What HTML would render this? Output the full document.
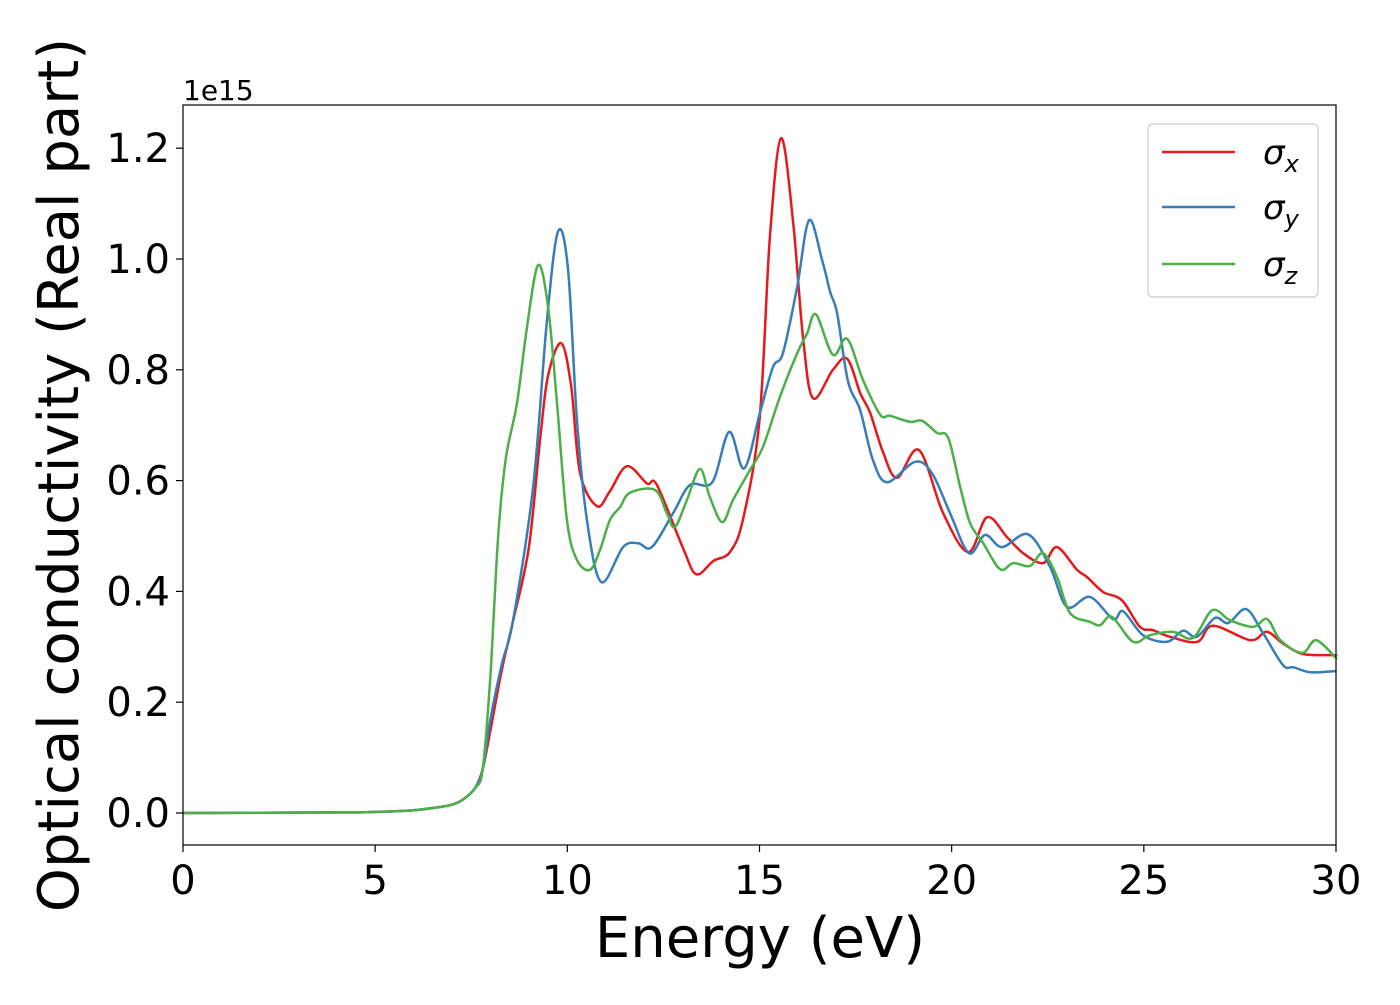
<!DOCTYPE html>
<html><head><meta charset="utf-8"><style>
html,body{margin:0;padding:0;background:#fff;}
svg text{font-family:"DejaVu Sans","Liberation Sans",sans-serif;}
</style></head><body>
<svg id="chart" width="1400" height="1000" xmlns="http://www.w3.org/2000/svg">
<rect width="1400" height="1000" fill="#fff"/>
<g id="plot"></g>
<rect x="183" y="105" width="1153" height="740" fill="none" stroke="#000" stroke-width="1.2"/>
<g id="xticks"></g>
<g id="yticks"></g>
<text x="760" y="957" font-size="56" text-anchor="middle">Energy (eV)</text>
<text transform="translate(78,475) rotate(-90)" font-size="56" text-anchor="middle">Optical conductivity (Real part)</text>
<text x="183" y="100" font-size="28">1e15</text>
<g>
<rect x="1148" y="124" width="170" height="173" rx="5" fill="#fff" stroke="#ccc" stroke-width="1.2"/>
<line x1="1162" y1="152" x2="1235" y2="152" stroke="#e41a1c" stroke-width="2.5"/>
<text x="1263" y="164" font-size="34" font-style="italic">σ<tspan font-size="24" dy="8">x</tspan></text>
<line x1="1162" y1="207" x2="1235" y2="207" stroke="#377eb8" stroke-width="2.5"/>
<text x="1263" y="219" font-size="34" font-style="italic">σ<tspan font-size="24" dy="8">y</tspan></text>
<line x1="1162" y1="264" x2="1235" y2="264" stroke="#4daf4a" stroke-width="2.5"/>
<text x="1263" y="276" font-size="34" font-style="italic">σ<tspan font-size="24" dy="8">z</tspan></text>
</g>
</svg>
<script>
const xTicks=[0,5,10,15,20,25,30];
const yTicks=[0,0.2,0.4,0.6,0.8,1.0,1.2];
const yTickLabels=["0.0","0.2","0.4","0.6","0.8","1.0","1.2"];
const lowE=[[0,0],[4,0.001],[5,0.002],[6,0.005],[6.5,0.009],[7,0.015],[7.3,0.025],[7.6,0.045],[7.8,0.08]];
const sigmaX=[[8.0,0.15],[8.3,0.26],[8.6,0.35],[9.0,0.48],[9.3,0.68],[9.5,0.79],[9.84,0.848],[10.1,0.77],[10.33,0.614],[10.77,0.554],[11.1,0.58],[11.55,0.626],[12.07,0.595],[12.33,0.592],[13.0,0.48],[13.35,0.431],[13.8,0.455],[14.23,0.471],[14.57,0.53],[15.0,0.71],[15.27,1.04],[15.56,1.218],[15.87,1.07],[16.13,0.86],[16.39,0.749],[16.91,0.80],[17.28,0.82],[17.62,0.758],[17.88,0.722],[18.22,0.65],[18.58,0.605],[19.15,0.655],[19.78,0.541],[20.43,0.471],[20.92,0.534],[21.44,0.498],[21.86,0.469],[22.38,0.451],[22.74,0.48],[23.26,0.439],[23.52,0.426],[23.94,0.399],[24.43,0.384],[24.9,0.336],[25.24,0.33],[25.68,0.318],[26.39,0.309],[26.8,0.338],[27.77,0.312],[28.2,0.327],[28.62,0.306],[29.14,0.287],[29.93,0.285],[30,0.285]];
const sigmaY=[[8.0,0.17],[8.3,0.27],[8.59,0.348],[9.11,0.588],[9.47,0.89],[9.76,1.05],[10.02,0.98],[10.25,0.71],[10.51,0.529],[10.88,0.417],[11.45,0.48],[11.84,0.487],[12.2,0.48],[12.75,0.541],[13.19,0.592],[13.77,0.597],[14.21,0.688],[14.6,0.622],[15.01,0.722],[15.35,0.805],[15.61,0.83],[15.98,0.95],[16.29,1.07],[16.63,0.998],[16.84,0.94],[17.02,0.902],[17.3,0.78],[17.62,0.727],[17.95,0.637],[18.32,0.597],[19.05,0.634],[19.49,0.613],[19.96,0.541],[20.45,0.469],[20.87,0.502],[21.31,0.48],[21.99,0.503],[22.56,0.444],[23.0,0.372],[23.6,0.39],[24.2,0.35],[24.46,0.364],[24.98,0.321],[25.6,0.309],[26.02,0.329],[26.38,0.318],[26.85,0.352],[27.2,0.343],[27.66,0.368],[28.1,0.325],[28.62,0.267],[28.9,0.263],[29.33,0.254],[29.93,0.256],[30,0.256]];
const sigmaZ=[[8.0,0.25],[8.2,0.5],[8.4,0.64],[8.69,0.74],[8.95,0.877],[9.24,0.989],[9.5,0.913],[9.73,0.74],[9.99,0.529],[10.25,0.457],[10.59,0.439],[10.85,0.475],[11.11,0.529],[11.37,0.552],[11.63,0.578],[12.28,0.583],[12.59,0.541],[12.8,0.516],[13.11,0.565],[13.45,0.621],[13.71,0.57],[14.03,0.525],[14.31,0.565],[14.75,0.619],[15.09,0.661],[15.53,0.751],[15.98,0.83],[16.24,0.866],[16.47,0.9],[16.91,0.827],[17.28,0.856],[17.69,0.782],[18.14,0.719],[18.4,0.717],[18.92,0.706],[19.23,0.708],[19.62,0.686],[19.91,0.677],[20.22,0.589],[20.48,0.523],[20.82,0.487],[21.26,0.44],[21.6,0.451],[22.04,0.446],[22.38,0.469],[22.74,0.426],[23.08,0.361],[23.6,0.345],[23.86,0.339],[24.17,0.354],[24.72,0.309],[25.16,0.321],[25.76,0.327],[26.28,0.316],[26.78,0.366],[27.24,0.348],[27.84,0.336],[28.21,0.35],[28.55,0.312],[29.12,0.289],[29.48,0.312],[29.97,0.282],[30,0.28]];
const NS="http://www.w3.org/2000/svg";
const X0=183,X1=1336,Y0=813,PX_PER_UNIT=554;
function sx(e){return X0+(e-0)/(30-0)*(X1-X0);}
function sy(v){return Y0-v*PX_PER_UNIT;}
function pathFor(pts){
  const p=pts.map(d=>[sx(d[0]),sy(d[1])]);
  let s="M"+p[0][0].toFixed(1)+","+p[0][1].toFixed(1);
  for(let i=0;i<p.length-1;i++){
    const a=p[Math.max(0,i-1)],b=p[i],c=p[i+1],d=p[Math.min(p.length-1,i+2)];
    const c1=[b[0]+(c[0]-a[0])/6,b[1]+(c[1]-a[1])/6];
    const c2=[c[0]-(d[0]-b[0])/6,c[1]-(d[1]-b[1])/6];
    s+="C"+c1[0].toFixed(1)+","+c1[1].toFixed(1)+" "+c2[0].toFixed(1)+","+c2[1].toFixed(1)+" "+c[0].toFixed(1)+","+c[1].toFixed(1);
  }
  return s;
}
const plot=document.getElementById('plot');
const series=[["sigma-x-line",sigmaX,"#e41a1c"],["sigma-y-line",sigmaY,"#377eb8"],["sigma-z-line",sigmaZ,"#4daf4a"]];
series.forEach(sr=>{
  const el=document.createElementNS(NS,'path');
  el.setAttribute('d',pathFor(lowE.concat(sr[1])));
  el.setAttribute('fill','none');
  el.setAttribute('stroke',sr[2]);
  el.setAttribute('stroke-width','2.5');
  
  
  plot.appendChild(el);
});
const xg=document.getElementById('xticks');
xTicks.forEach(t=>{
  const l=document.createElementNS(NS,'line');
  l.setAttribute('x1',sx(t));l.setAttribute('x2',sx(t));l.setAttribute('y1',845);l.setAttribute('y2',852);
  l.setAttribute('stroke','#000');l.setAttribute('stroke-width','1.2');
  
  
  xg.appendChild(l);
  const tx=document.createElementNS(NS,'text');
  tx.setAttribute('x',sx(t));tx.setAttribute('y',894);tx.setAttribute('font-size','40');tx.setAttribute('text-anchor','middle');
  tx.textContent=String(t);
  
  
  xg.appendChild(tx);
});
const yg=document.getElementById('yticks');
yTicks.forEach((t,i)=>{
  const l=document.createElementNS(NS,'line');
  l.setAttribute('x1',176);l.setAttribute('x2',183);l.setAttribute('y1',sy(t));l.setAttribute('y2',sy(t));
  l.setAttribute('stroke','#000');l.setAttribute('stroke-width','1.2');
  
  
  yg.appendChild(l);
  const tx=document.createElementNS(NS,'text');
  tx.setAttribute('x',170);tx.setAttribute('y',sy(t)+14);tx.setAttribute('font-size','40');tx.setAttribute('text-anchor','end');
  tx.textContent=yTickLabels[i];
  
  
  yg.appendChild(tx);
});
</script>
</body></html>
